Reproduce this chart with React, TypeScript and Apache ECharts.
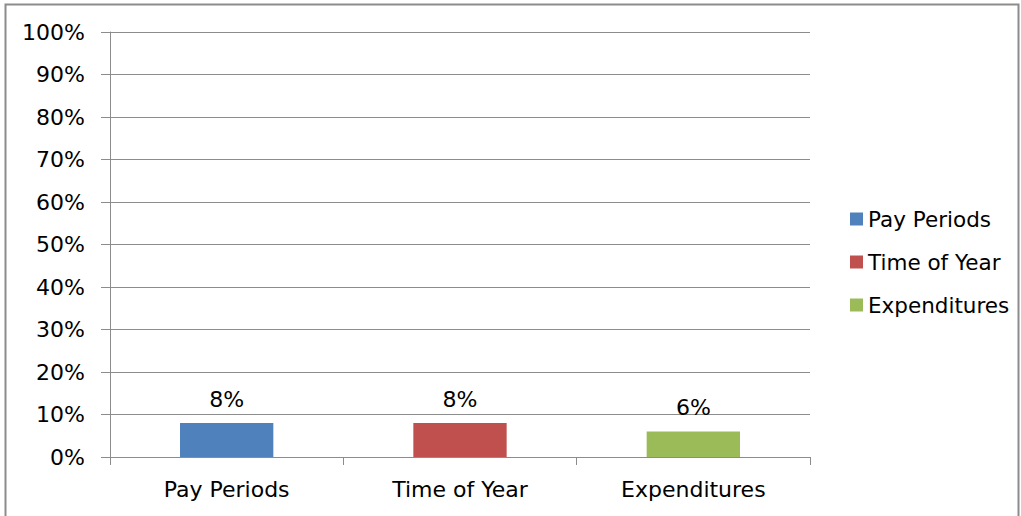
import React, { useEffect, useRef } from "react";
import * as echarts from "echarts";

const categories = ["Pay Periods", "Time of Year", "Expenditures"];
const values = [8, 8, 6];
const colors = ["#4F81BD", "#C0504D", "#9BBB59"];
const yTicks = [0, 10, 20, 30, 40, 50, 60, 70, 80, 90, 100];

export default function App() {
  const ref = useRef<HTMLDivElement>(null);
  useEffect(() => {
    const chart = echarts.init(ref.current!, null, { renderer: "svg" });
    const font = "DejaVu Sans";
    const gray = "#8c8c8c";
    const series = categories.map((name, i) => ({
      name,
      type: "bar",
      stack: "all",
      barWidth: "40%",
      itemStyle: { color: colors[i] },
      label: {
        show: true,
        position: "top",
        distance: 13,
        formatter: (p: any) => p.value + "%",
        color: "#000",
        fontFamily: font,
        fontSize: 22,
      },
      data: categories.map((_, j) => (j === i ? values[i] : null)),
    }));
    chart.setOption({
      animation: false,
      graphic: [
        {
          type: "rect",
          shape: { x: 5.5, y: 4.5, width: 1013, height: 530 },
          style: { fill: "none", stroke: gray, lineWidth: 2 },
        },
      ],
      legend: {
        orient: "vertical",
        left: 845,
        top: 203,
        itemWidth: 13,
        itemHeight: 13,
        itemGap: 21,
        icon: "rect",
        textStyle: { fontFamily: font, fontSize: 21.5, color: "#000" },
        data: categories,
      },
      grid: { left: 110, right: 211, top: 32, bottom: 59 },
      xAxis: {
        type: "category",
        data: categories,
        axisLine: { lineStyle: { color: gray } },
        axisTick: { show: true, length: 8, lineStyle: { color: gray } },
        axisLabel: { color: "#000", fontFamily: font, fontSize: 22, margin: 21 },
      },
      yAxis: {
        type: "value",
        min: yTicks[0],
        max: yTicks[yTicks.length - 1],
        interval: 10,
        axisLine: { show: true, lineStyle: { color: gray } },
        axisTick: { show: true, length: 9, lineStyle: { color: gray } },
        splitLine: { lineStyle: { color: gray } },
        axisLabel: {
          color: "#000",
          fontFamily: font,
          fontSize: 22,
          margin: 25,
          formatter: (v: number) => v + "%",
        },
      },
      series,
    });
    return () => chart.dispose();
  }, []);
  return (
    <div
      ref={ref}
      style={{ position: "absolute", left: 0, top: 0, width: 1021, height: 516, background: "#fff" }}
    />
  );
}
